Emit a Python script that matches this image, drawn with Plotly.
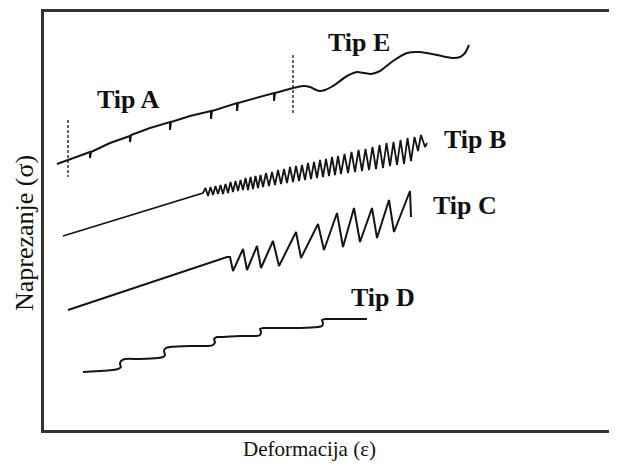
import plotly.graph_objects as go

# Coordinates (strain -> x, stress -> y; y axis reversed in pixel-like units)
tipA_x = [57, 68, 90, 90, 91, 110, 130, 130, 131, 150, 170, 170, 171, 190, 211, 211, 212, 237, 237, 238, 255, 274, 274, 275, 293]
tipA_y = [164, 160, 152, 158, 152, 143, 136, 142, 135, 128, 122, 130, 122, 116, 111, 119, 111, 103, 111, 103, 98, 93, 101, 93, 88]

tipE_x = [293, 303, 310, 316, 320, 325, 333, 347, 357, 364, 371, 380, 393, 407, 420, 437, 453, 460, 465, 469]
tipE_y = [88, 86, 87, 90, 91, 90, 86, 76, 72, 73, 74, 71, 61, 53, 52, 55, 58, 57, 53, 45]

tipB_x = [63, 203, 205.5, 208, 210.5, 213, 215.5, 218, 220.5, 223, 225.5, 228, 230.5, 233, 235.5, 238,
          240.5, 243, 245.5, 248, 250.5, 253, 255.5, 258, 260.5, 263, 266, 269, 272, 275, 278, 281, 284,
          287, 290, 293, 296, 299, 302, 305, 308, 311, 314, 317, 320, 323, 326, 329, 332, 335, 338, 341,
          344.5, 348, 351.5, 355, 358.5, 362, 365.5, 369, 372.5, 376, 379.5, 383, 386.5, 390, 393.5, 397,
          400.5, 404, 407.5, 411, 414.5, 418, 421, 425, 427]
tipB_y = [236, 193, 188, 196, 187, 195, 186, 194, 185, 194, 184, 193, 182, 192, 181, 191,
          180, 190, 178, 190, 177, 189, 176, 188, 175, 187, 173, 186, 172, 185, 170, 184, 169,
          183, 167, 182, 166, 181, 165, 180, 163, 179, 162, 178, 160, 177, 159, 176, 157, 175, 156, 174,
          154, 173, 152, 172, 150, 171, 149, 170, 147, 169, 145, 168, 143, 166, 142, 165,
          140, 164, 138, 161, 137, 151, 135, 147, 143]

tipC_x = [68, 227, 230, 233, 243, 247, 257, 261, 273, 279, 296, 301, 318, 324, 337, 343, 354, 360, 372, 377, 389, 394, 410, 411]
tipC_y = [310, 257, 257, 271, 249, 270, 246, 268, 241, 266, 232, 258, 224, 250, 213, 247, 208, 242, 208, 238, 200, 232, 191, 217]

tipD_x = [83, 100, 112, 118, 121, 120, 121, 125, 140, 158, 163, 165, 164, 166, 170, 190, 208, 213, 215, 214,
          217, 222, 240, 256, 260, 261, 260, 264, 280, 300, 318, 322, 323, 322, 326, 340, 367]
tipD_y = [372, 371, 370, 369, 367, 364, 361, 359, 359, 358, 357, 355, 351, 348, 347, 346, 346, 345, 342, 339,
          337, 337, 336, 336, 335, 332, 329, 328, 328, 328, 327, 326, 323, 320, 319, 319, 319]

dash_x = [68, 293]
dash_y0 = [120, 55]
dash_y1 = [177, 115]

label_text = ["Tip A", "Tip E", "Tip B", "Tip C", "Tip D"]
label_x = [128, 359, 475, 465, 383]
label_y = [99, 42, 139, 205, 297]

x_title = "Deformacija (ε)"
y_title = "Naprezanje (σ)"

INK = "#151515"
fig = go.Figure()

def add_curve(xs, ys, shape="linear", w=2.0):
    fig.add_trace(go.Scatter(x=xs, y=ys, mode="lines",
                             line=dict(color=INK, width=w, shape=shape, smoothing=0.6 if shape == "spline" else None),
                             hoverinfo="skip", showlegend=False))

add_curve(tipA_x, tipA_y)
add_curve(tipE_x, tipE_y, "spline")
add_curve(tipB_x, tipB_y, w=1.8)
add_curve(tipC_x, tipC_y)
add_curve(tipD_x, tipD_y, "spline")

for xv, a, b in zip(dash_x, dash_y0, dash_y1):
    fig.add_trace(go.Scatter(x=[xv, xv], y=[a, b], mode="lines",
                             line=dict(color=INK, width=1.3, dash="3px,2px"),
                             hoverinfo="skip", showlegend=False))

for t, xv, yv in zip(label_text, label_x, label_y):
    fig.add_annotation(x=xv, y=yv, xref="x", yref="y", text="<b>" + t + "</b>", showarrow=False,
                       font=dict(family="Liberation Serif", size=26, color="#111"),
                       xanchor="center", yanchor="middle")

fig.add_annotation(x=0.464, y=-0.045, xref="paper", yref="paper", text=x_title, showarrow=False,
                   font=dict(family="Liberation Serif", size=21, color="#111"),
                   xanchor="center", yanchor="middle")
fig.add_annotation(x=-0.034, y=0.47, xref="paper", yref="paper", text=y_title, showarrow=False, textangle=-90,
                   font=dict(family="Liberation Serif", size=26, color="#111"),
                   xanchor="center", yanchor="middle")

# page body has an 8px default margin, so the figure is 8px smaller and margins shifted
fig.update_layout(
    width=609, height=456,
    margin=dict(l=36, r=0, t=4, b=34),
    paper_bgcolor="white", plot_bgcolor="white",
    xaxis=dict(range=[44, 617], showgrid=False, zeroline=False, showticklabels=False, ticks="",
               showline=True, mirror=True, linecolor="#333", linewidth=2.5),
    yaxis=dict(range=[430, 12], showgrid=False, zeroline=False, showticklabels=False, ticks="",
               showline=True, mirror=False, linecolor="#333", linewidth=2.5),
)

fig.write_html("out.html")
